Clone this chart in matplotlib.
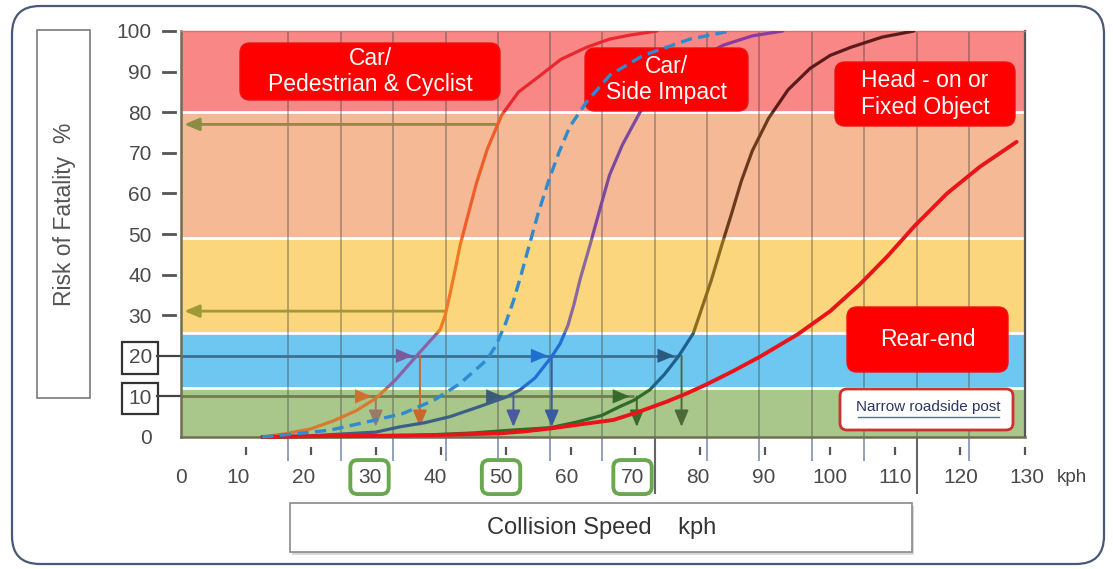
import numpy as np
import matplotlib
matplotlib.use("Agg")
import matplotlib.pyplot as plt
from matplotlib.patches import FancyBboxPatch, Rectangle
from matplotlib import transforms as mtrans
from matplotlib import font_manager as fm

# ---------------- data ----------------
speed_ticks = [0, 10, 20, 30, 40, 50, 60, 70, 80, 90, 100, 110, 120, 130]
boxed_speeds = [30, 50, 70]
risk_ticks = [0, 10, 20, 30, 40, 50, 60, 70, 80, 90, 100]
boxed_risks = [10, 20]

band_lo = [0, 12, 25.5, 49, 80]
band_hi = [12, 25.5, 49, 80, 100]

ped_speed = [12.5, 16, 20, 23.5, 27, 30, 33, 36.3, 39.9, 40.7, 41.4, 42.2, 43.0, 44.0, 45.5,
             47.2, 49.4, 52, 55.3, 58.5, 62.5, 66, 69.2, 73.3]
ped_risk = [0, 0.8, 2, 4, 6.5, 9.5, 14, 20, 26.4, 30, 35, 41, 47.3, 53.4, 62.5,
            71, 79.3, 85, 89, 93, 96, 98, 99, 100]

dash_speed = [12.5, 17, 23, 30, 34.2, 38.9, 43.0, 47.1, 48.5, 50.0, 51.2, 52.4, 53.6, 55.0,
              56.6, 58.2, 59.9, 62.5, 66.1, 71.2, 78.4, 84.6]
dash_risk = [0, 0.7, 1.7, 4.2, 5.8, 9, 13.2, 19, 22.5, 28, 33.5, 40, 47, 55,
             63, 70, 76.5, 82.6, 89.2, 94, 98, 100]

side_speed = [12.5, 20, 30, 33.7, 37.5, 41.4, 46, 50.2, 52.2, 54.5, 57.1, 58.4, 59.6, 60.5,
              61.5, 63.0, 64.5, 66.0, 68.0, 70.7, 73.5, 76.5, 80, 83.5, 88, 92.7]
side_risk = [0, 0.3, 1.2, 2.5, 3.5, 5, 7.5, 9.9, 11.6, 14.5, 19.8, 23, 27.5, 32.5,
             39, 47.3, 56, 64.5, 72, 80, 85.5, 90, 93.5, 96.5, 98.8, 100]

head_speed = [12.5, 25, 35, 45, 51, 56.9, 61, 64.8, 67.6, 69.7, 72.2, 74.5, 76.6, 78.9, 81.7,
              83.3, 84.8, 86.3, 88.0, 90.5, 93.5, 96.9, 100, 103.2, 108, 112.9]
head_risk = [0, 0.1, 0.3, 1, 1.7, 2.3, 3.7, 5.3, 7.5, 9, 11.6, 15.5, 19.8, 25.5, 38.7,
             47.3, 55, 63, 70.5, 78.5, 85.5, 90.8, 94, 96, 98.5, 100]

rear_speed = [12.5, 20, 30, 40, 49.1, 53, 56.9, 61, 66.6, 70.5, 74.8, 78, 81, 85, 89.2, 95,
              100, 104.5, 108.8, 113, 118, 123, 128.7]
rear_risk = [0, 0.2, 0.3, 0.5, 0.9, 1.4, 2.1, 3, 4.2, 6.2, 8.7, 10.8, 13, 16.2, 19.8, 25.3,
             31, 37.5, 44.5, 52, 60, 66.5, 72.7]

left_arrow_levels = [77, 31]
left_arrow_from = [48.6, 40.8]
row20_hits = [36.3, 57.1, 76.6]
row10_hits = [30.0, 50.2, 69.7]
down_speeds = [30.0, 36.8, 51.2, 57.1, 70.2, 77.1]
down_from = [10, 20, 10, 20, 10, 20]

box_labels = ["Car/\nPedestrian & Cyclist", "Car/\nSide Impact", "Head - on or\nFixed Object", "Rear-end"]
post_label = "Narrow roadside post"
y_title = "Risk of Fatality  %"
x_title = "Collision Speed    kph"

# ---------------- style ----------------
W, H = 1113, 569
names = {f.name for f in fm.fontManager.ttflist}
narrow = 'Liberation Sans Narrow' if 'Liberation Sans Narrow' in names else 'Liberation Sans'
plt.rcParams['font.family'] = ['Liberation Sans', 'DejaVu Sans']

band_colors = ['#A9C78B', '#6EC7F0', '#FCD67C', '#F5B995', '#F88786']
ped_colors = ['#D9782F', '#8A63A6', '#F07A22', '#EE5E2A', '#E8282E']
side_colors = ['#3B5F86', '#1F6FD6', '#8A6A9A', '#7B4A9E', '#8A3C9C']
head_colors = ['#2F6A2C', '#1F5F8C', '#8C6A22', '#6B3A1C', '#5C1A1A']
rear_color = '#E8141A'
dash_color = '#2F8AD0'
grid_speeds = [16.5, 24.6, 32.7, 40.8, 48.8, 56.9, 64.9, 73.0, 81.0, 89.1, 97.2, 105.2, 113.3, 121.4]
long_grid = [73.0, 113.3]

fig = plt.figure(figsize=(W / 100, H / 100), dpi=100)
ax = fig.add_axes([181 / W, 1 - 437 / H, 844 / W, 406 / H])
ax.set_xlim(0, 130)
ax.set_ylim(0, 100)
ax.set_autoscale_on(False)
PX = fig.dpi_scale_trans


def pbox(x0, y0, x1, y1, target, **kw):
    p = FancyBboxPatch((x0 / 100, (H - y1) / 100), (x1 - x0) / 100, (y1 - y0) / 100,
                       transform=PX, **kw)
    target.add_artist(p)
    return p


# outer rounded frame
pbox(12, 6, 1104, 564, fig, boxstyle='round,pad=0,rounding_size=0.28',
     fc='none', ec='#4A5878', lw=1.6, zorder=-1)

# bands
for lo, hi, c in zip(band_lo, band_hi, band_colors):
    ax.axhspan(lo, hi, color=c, lw=0, zorder=0)
for b in band_lo[1:]:
    ax.axhline(b, color='white', lw=2.0, zorder=0.6)

# grid
ax.vlines(grid_speeds, 0, 100, colors='#3A3A3A', alpha=0.35, lw=1.4, zorder=1)
ax.vlines(grid_speeds, -6, 0, colors='#8090B0', lw=1.2, clip_on=False)
ax.vlines(long_grid, -14, 0, colors='#666666', lw=1.5, clip_on=False)
ax.vlines(speed_ticks[1:], -4.4, -2.5, colors='#555555', lw=1.6, clip_on=False)


def arrow(x0, y0, x1, y1, color, lw=1.8, hl=0.9, hw=0.38, z=2.5):
    ax.annotate('', xy=(x1, y1), xytext=(x0, y0),
                arrowprops=dict(arrowstyle=f'-|>,head_length={hl},head_width={hw}',
                                color=color, lw=lw, shrinkA=0, shrinkB=0), zorder=z)


# horizontal guide arrows
for lvl, x0, c in zip(left_arrow_levels, left_arrow_from, ['#8C8C45', '#9E9A3A']):
    arrow(x0, lvl, 0.5, lvl, c, lw=2.0)
ax.hlines(20, 0, row20_hits[-1], colors='#3E6F94', lw=2.0, zorder=2)
ax.hlines(10, 0, row10_hits[-1], colors='#6F7F4F', lw=2.0, zorder=2)
for x, c in zip(row20_hits, ['#7A5A9A', '#1E6FD0', '#2A5A80']):
    arrow(x - 3, 20, x - 0.6, 20, c, lw=0.1, hl=1.2, hw=0.5, z=3.6)
for x, c in zip(row10_hits, ['#D07030', '#3A5A7A', '#356A2A']):
    arrow(x - 3, 10, x - 0.6, 10, c, lw=0.1, hl=1.2, hw=0.5, z=3.6)
for x, lvl, c in zip(down_speeds, down_from,
                     ['#9A7A6A', '#C8682E', '#4A5AA0', '#3A5AA0', '#3A6A2A', '#4A6A3A']):
    arrow(x, lvl, x, 2.5, c, lw=1.4, hl=1.0, hw=0.42, z=2.6)


# curves, coloured per band
def banded(xs, ys, colors, lw, z):
    for i, c in enumerate(colors):
        lo = -5 if i == 0 else band_lo[i]
        hi = band_hi[i]
        ln, = ax.plot(xs, ys, color=c, lw=lw, zorder=z, solid_capstyle='round',
                      solid_joinstyle='round')
        ln.set_clip_box(None)
        ln.set_clip_path(Rectangle((0, lo), 130, hi - lo, transform=ax.transData))


banded(ped_speed, ped_risk, ped_colors, 2.3, 3.0)
banded(side_speed, side_risk, side_colors, 2.3, 3.0)
banded(head_speed, head_risk, head_colors, 2.3, 3.0)
banded(rear_speed, rear_risk, [rear_color] * 5, 2.8, 3.5)
dl, = ax.plot(dash_speed, dash_risk, color=dash_color, lw=2.4, zorder=5,
              dashes=(3.4, 1.9), solid_joinstyle='round')
dl.set_clip_box(None)
dl.set_clip_path(Rectangle((0, -5), 130, 105, transform=ax.transData))

# red label boxes (inside axes, under the dashed curve)
box_pos = [(240, 43, 500, 100), (585, 48, 748, 111), (835, 62, 1015, 126), (847, 307, 1008, 372)]
for (x0, y0, x1, y1), txt in zip(box_pos, box_labels):
    pbox(x0, y0, x1, y1, ax, boxstyle='round,pad=0,rounding_size=0.1',
         fc='#FF0000', ec='#F01010', lw=1, zorder=4)
    ax.text((x0 + x1) / 200, (H - (y0 + y1) / 2) / 100, txt, transform=PX,
            ha='center', va='center', color='white', fontsize=16.5,
            linespacing=1.2, zorder=4.5)
pbox(840, 389, 1013, 430, ax, boxstyle='round,pad=0,rounding_size=0.07',
     fc='white', ec='#D03030', lw=2.0, zorder=4)
ax.text(928.5 / 100, (H - 407) / 100, post_label, transform=PX, ha='center', va='center',
        color='#2A3560', fontsize=11, family=narrow, zorder=4.5)
ax.plot([858 / 100, 999 / 100], [(H - 417) / 100] * 2, transform=PX, color='#5070A0',
        lw=1.0, zorder=4.5)

# spines
for s in ['left', 'bottom']:
    ax.spines[s].set_color('#6E6E55')
    ax.spines[s].set_linewidth(1.8)
ax.spines['right'].set_color('#555555')
ax.spines['right'].set_linewidth(1.6)
ax.spines['top'].set_color('#E07070')
ax.spines['top'].set_linewidth(1.0)

# x ticks
ax.set_xticks(speed_ticks)
ax.set_xticklabels([str(v) for v in speed_ticks])
ax.tick_params(axis='x', length=0, pad=22, labelsize=15, labelcolor='#4A4A4A')
for v, lbl in zip(speed_ticks, ax.get_xticklabels()):
    off = 0 if v == 0 else (-8.75 + 0.083 * v)
    lbl.set_transform(lbl.get_transform() + mtrans.ScaledTranslation(off / 100, 0, PX))
    if v in boxed_speeds:
        lbl.set_bbox(dict(boxstyle='round,pad=0.36,rounding_size=0.35', fc='white',
                          ec='#6AA84F', lw=2.8))
fig.text(1072 / W, 1 - 478 / H, 'kph', ha='center', va='center', fontsize=13.5,
         color='#444444')

# y ticks
ax.set_yticks(risk_ticks)
ax.set_yticklabels([str(v) for v in risk_ticks])
ax.tick_params(axis='y', length=0, pad=21, labelsize=15, labelcolor='#4A4A4A')
for v, lbl in zip(risk_ticks, ax.get_yticklabels()):
    if v in boxed_risks:
        lbl.set_bbox(dict(boxstyle='square,pad=0.3', fc='white', ec='#333333', lw=1.6))
yt = ax.get_yaxis_transform()
for v in risk_ticks:
    if v in boxed_risks:
        ax.plot([(157 - 181) / 844, 0], [v, v], transform=yt, color='#444444', lw=1.6,
                clip_on=False)
    elif v > 0:
        ax.plot([(163 - 181) / 844, (175 - 181) / 844], [v, v], transform=yt,
                color='#555555', lw=2.0, clip_on=False)

# axis title boxes
fig.add_artist(Rectangle((37 / 100, (H - 398) / 100), 53 / 100, 368 / 100, transform=PX,
                         fc='white', ec='#7A7A7A', lw=1.2))
fig.text(64 / W, 1 - 214 / H, y_title, rotation=90, ha='center', va='center',
         fontsize=16.5, color='#555555')
fig.add_artist(Rectangle((292 / 100, (H - 555) / 100), 622 / 100, 49 / 100, transform=PX,
                         fc='#D8D8D8', ec='none', lw=0))
fig.add_artist(Rectangle((290 / 100, (H - 552) / 100), 622 / 100, 49 / 100, transform=PX,
                         fc='white', ec='#8A8A8A', lw=1.2))
fig.text(602 / W, 1 - 528 / H, x_title, ha='center', va='center', fontsize=17,
         family=narrow, color='#333333')

fig.savefig('out.png', dpi=100)
